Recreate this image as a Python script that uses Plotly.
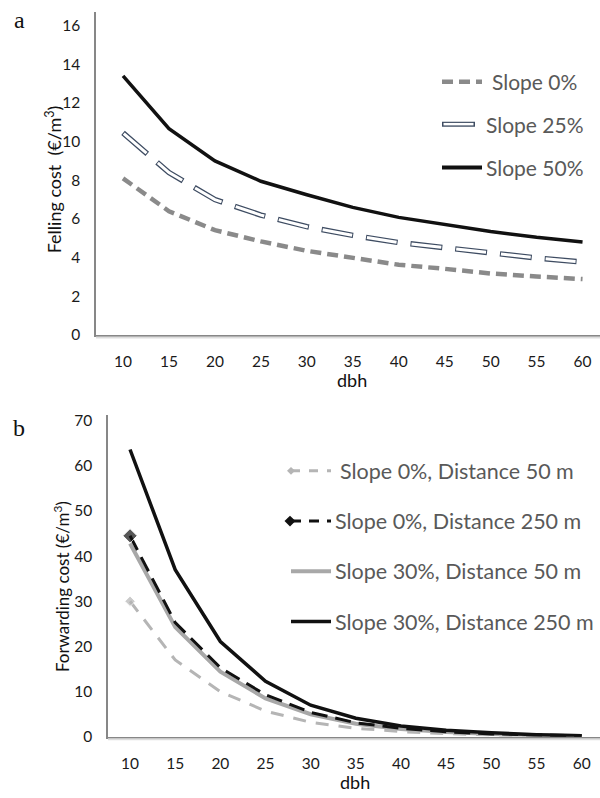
import plotly.graph_objects as go

W, H = 600, 798

# ---------------- data ----------------
dbh = [10, 15, 20, 25, 30, 35, 40, 45, 50, 55, 60]

# panel a: felling cost (€/m3)
fell_slope0 = [8.1, 6.4, 5.42, 4.84, 4.35, 3.98, 3.63, 3.42, 3.18, 3.02, 2.89]
fell_slope25 = [10.45, 8.4, 7.0, 6.2, 5.6, 5.15, 4.78, 4.5, 4.25, 3.98, 3.77]
fell_slope50 = [13.4, 10.67, 9.0, 7.95, 7.25, 6.6, 6.08, 5.7, 5.35, 5.05, 4.81]

# panel b: forwarding cost (€/m3)
fwd_s0_d50 = [30.0, 17.0, 10.0, 5.7, 3.2, 1.9, 1.15, 0.7, 0.42, 0.25, 0.15]
fwd_s0_d250 = [44.5, 25.3, 15.3, 9.3, 5.4, 3.1, 1.9, 1.1, 0.65, 0.4, 0.22]
fwd_s30_d50 = [42.8, 24.3, 14.4, 8.5, 5.0, 2.9, 1.75, 1.05, 0.6, 0.35, 0.2]
fwd_s30_d250 = [63.6, 37.0, 21.1, 12.3, 7.0, 4.1, 2.4, 1.45, 0.9, 0.45, 0.22]

yticks_a = [0, 2, 4, 6, 8, 10, 12, 14, 16]
yticks_b = [0, 10, 20, 30, 40, 50, 60, 70]

legend_a = ["Slope 0%", "Slope 25%", "Slope 50%"]
legend_b = ["Slope 0%, Distance 50 m", "Slope 0%, Distance 250 m",
            "Slope 30%, Distance 50 m", "Slope 30%, Distance 250 m"]

FONT = "Lato"
AXC = "#878787"
LEGC = "#595959"


def px(x):
    return x / W


def py(y):
    return 1 - y / H


fig = go.Figure()

# ---- panel a traces ----
fig.add_trace(go.Scatter(x=dbh, y=fell_slope0, mode="lines", xaxis="x", yaxis="y",
                         line=dict(color="#8A8A8A", width=4.5, dash="11px,6px"), showlegend=False))
fig.add_trace(go.Scatter(x=dbh, y=fell_slope25, mode="lines", xaxis="x", yaxis="y",
                         line=dict(color="#3E4C62", width=5.5, dash="32px,13px"), showlegend=False))
fig.add_trace(go.Scatter(x=dbh, y=fell_slope25, mode="lines", xaxis="x", yaxis="y",
                         line=dict(color="white", width=3, dash="0px,1px,30px,14px"), showlegend=False))
fig.add_trace(go.Scatter(x=dbh, y=fell_slope50, mode="lines", xaxis="x", yaxis="y",
                         line=dict(color="#111111", width=3.5), showlegend=False))

# ---- panel b traces ----
first_only_small = [8] + [0] * (len(dbh) - 1)
first_only_big = [11] + [0] * (len(dbh) - 1)
fig.add_trace(go.Scatter(x=dbh, y=fwd_s30_d50, mode="lines", xaxis="x2", yaxis="y2",
                         line=dict(color="#A8A8A8", width=4), showlegend=False))
fig.add_trace(go.Scatter(x=dbh, y=fwd_s0_d50, mode="lines+markers", xaxis="x2", yaxis="y2",
                         line=dict(color="#B5B5B5", width=3, dash="13px,10px"),
                         marker=dict(symbol="diamond", size=first_only_small, color="#B5B5B5"),
                         showlegend=False))
fig.add_trace(go.Scatter(x=dbh, y=fwd_s0_d250, mode="lines+markers", xaxis="x2", yaxis="y2",
                         line=dict(color="#111111", width=3, dash="16px,8px"),
                         marker=dict(symbol="diamond", size=first_only_big, color="#111111"),
                         showlegend=False))
fig.add_trace(go.Scatter(x=dbh, y=fwd_s30_d250, mode="lines", xaxis="x2", yaxis="y2",
                         line=dict(color="#111111", width=3.5), showlegend=False))

tickfont = dict(family=FONT, size=15.5, color="#1a1a1a")

axis_common = dict(showgrid=False, zeroline=False, showline=True, linecolor=AXC, linewidth=1.5,
                   ticks="", tickfont=tickfont, fixedrange=True)

fig.update_layout(
    width=W, height=H,
    margin=dict(l=0, r=0, t=0, b=0),
    paper_bgcolor="white", plot_bgcolor="white",
    xaxis=dict(domain=[px(96), 1], range=[7.06, 61.9], tickvals=dbh, anchor="y",
               ticklabelstandoff=12, **axis_common),
    yaxis=dict(domain=[py(336), py(8)], range=[0, 16.71], tickvals=yticks_a, anchor="x",
               ticklabelstandoff=11, **axis_common),
    xaxis2=dict(domain=[px(108), 1], range=[7.56, 62.03], tickvals=dbh, anchor="y2",
                ticklabelstandoff=12, **axis_common),
    yaxis2=dict(domain=[py(744), py(417)], range=[0, 71.3], tickvals=yticks_b, anchor="x2",
                ticklabelstandoff=11, **axis_common),
)

shapes = []
ann = []

# x-axis shadow lines
for yy, x0 in [(338.5, 96), (746.5, 108)]:
    shapes.append(dict(type="line", xref="paper", yref="paper", x0=px(x0), x1=1,
                       y0=py(yy), y1=py(yy), line=dict(color="#DDDDDD", width=2)))


def text(t, x, y, size, color="#111111", family=FONT, angle=0, xanchor="center"):
    ann.append(dict(text=t, x=px(x), y=py(y), xref="paper", yref="paper", textangle=angle,
                    xanchor=xanchor, yanchor="middle", showarrow=False,
                    font=dict(family=family, size=size, color=color)))


# ---- axis titles and panel letters ----
text("Felling cost  (€/m<sup>3</sup>)", 54, 178, 18, angle=-90)
text("dbh", 352, 382, 18)
text("Forwarding cost (€/m<sup>3</sup>)", 61, 592, 17, angle=-90)
text("dbh", 355, 790, 18)
text("a", 19, 16, 24, family="Liberation Serif")
text("b", 19, 430, 24, family="Liberation Serif")

# ---- legend a ----
rows_a = [79, 122, 166]
text_x_a = [490, 484, 484]
styles_a = [
    [dict(color="#8A8A8A", width=4.5, dash="11px,6px")],
    [dict(color="#3E4C62", width=5), dict(color="white", width=2.5)],
    [dict(color="#111111", width=4)],
]
for r, tx, st, label in zip(rows_a, text_x_a, styles_a, legend_a):
    for i, s in enumerate(st):
        if len(st) == 2:
            x0, x1 = (442, 475) if i == 0 else (443.5, 473.5)
        else:
            x0, x1 = 442, 482
        shapes.append(dict(type="line", xref="paper", yref="paper", x0=px(x0), x1=px(x1),
                           y0=py(r), y1=py(r), line=s))
    text(label, tx, r, 21, color=LEGC, xanchor="left")

# ---- legend b ----
rows_b = [474, 525, 576, 627]
text_x_b = [338, 333, 333, 333]
styles_b = [
    dict(color="#B5B5B5", width=3, dash="9px,9px"),
    dict(color="#111111", width=3, dash="10px,8px"),
    dict(color="#A8A8A8", width=4),
    dict(color="#111111", width=3.5),
]
for k, (r, tx, st, label) in enumerate(zip(rows_b, text_x_b, styles_b, legend_b)):
    shapes.append(dict(type="line", xref="paper", yref="paper", x0=px(291), x1=px(331),
                       y0=py(r), y1=py(r), line=st))
    if k in (0, 1):
        hs = 4 if k == 0 else 5.5
        cx = 291 if k == 0 else 290
        col = "#B5B5B5" if k == 0 else "#111111"
        path = "M {},{} L {},{} L {},{} L {},{} Z".format(
            px(cx - hs), py(r), px(cx), py(r - hs), px(cx + hs), py(r), px(cx), py(r + hs))
        shapes.append(dict(type="path", xref="paper", yref="paper", path=path,
                           fillcolor=col, line=dict(color=col, width=0)))
    text(label, tx, r, 21.5, color=LEGC, xanchor="left")

fig.update_layout(shapes=shapes, annotations=ann)

fig.write_html("out.html", config={"displayModeBar": False},
               post_script="document.body.style.margin='0px';")
